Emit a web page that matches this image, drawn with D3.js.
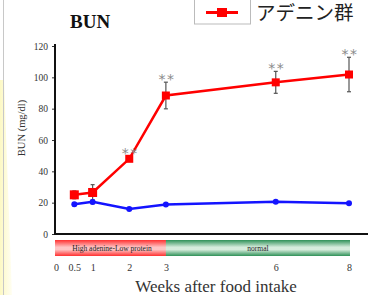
<!DOCTYPE html>
<html>
<head>
<meta charset="utf-8">
<script src="https://cdn.jsdelivr.net/npm/d3@7"></script>
<style>
  html, body { margin: 0; padding: 0; background: #fff; }
  svg { display: block; }
</style>
</head>
<body>
<div id="chart"></div>
<script>
// data
const weeks = [0.5, 1, 2, 3, 6, 8];
const adenine = [25, 26.5, 48, 88.4, 96.8, 101.8];
const adenineErr = [2.5, 5, 1.5, 8.5, 7, 11];
const control = [19, 20.5, 16, 18.8, 20.6, 19.6];
const controlErr = [1, 1.2, 0.5, 0.5, 0.5, 0.5];
const signif = ["", "", "**", "**", "**", "**"];
const xTicks = [0, 0.5, 1, 2, 3, 6, 8];
const yTicks = [0, 20, 40, 60, 80, 100, 120];
const phaseLabels = ["High adenine-Low protein", "normal"];
const phaseFrom = [0, 3];
const phaseTo = [3, 8];
const legendLabel = "アデニン群";

const width = 368, height = 295;

const svg = d3.select("#chart").append("svg")
    .attr("width", width)
    .attr("height", height);

const defs = svg.append("defs");

// left yellow fade + border line
const yg = defs.append("linearGradient").attr("id", "yel").attr("x1", 0).attr("x2", 1);
yg.append("stop").attr("offset", 0).attr("stop-color", "#fdf9c4");
yg.append("stop").attr("offset", 1).attr("stop-color", "#fffef2");
svg.append("path")
    .attr("d", "M0,80 L4,80 L12,295 L0,295 Z")
    .attr("fill", "url(#yel)");
svg.append("line")
    .attr("x1", 3.5).attr("x2", 3.5).attr("y1", 0).attr("y2", 295)
    .attr("stroke", "#c8c8c8").attr("stroke-width", 1);

// scales
const x = d3.scaleLinear().domain([0, 8]).range([56, 349]);
const y = d3.scaleLinear().domain([0, 120]).range([234, 46]);

// title
svg.append("text")
    .attr("x", 70).attr("y", 28)
    .attr("font-family", "Liberation Serif, serif")
    .attr("font-weight", "bold")
    .attr("font-size", 19)
    .attr("fill", "#111")
    .text("BUN");

// legend
const lg = svg.append("g");
lg.append("rect")
    .attr("x", 194.5).attr("y", -2).attr("width", 56).attr("height", 26)
    .attr("fill", "#fff").attr("stroke", "#bbb");
lg.append("line")
    .attr("x1", 206).attr("x2", 238).attr("y1", 12.5).attr("y2", 12.5)
    .attr("stroke", "#ff0000").attr("stroke-width", 3);
lg.append("rect")
    .attr("x", 217).attr("y", 8).attr("width", 10).attr("height", 9)
    .attr("fill", "#ff0000");
lg.append("text")
    .attr("x", 256).attr("y", 20)
    .attr("font-family", "Noto Sans CJK JP, sans-serif")
    .attr("font-size", 19.5)
    .attr("fill", "#222")
    .text(legendLabel);

// y axis
const yAxis = d3.axisLeft(y).tickValues(yTicks).tickSize(3).tickPadding(4);
const gy = svg.append("g")
    .attr("transform", "translate(" + 55 + ",0)")
    .call(yAxis);
gy.select(".domain").remove();
gy.selectAll(".tick line").attr("stroke", "#333");
gy.selectAll("text")
    .attr("font-family", "Liberation Serif, serif")
    .attr("font-size", 9.5)
    .attr("fill", "#333");
svg.append("line")
    .attr("x1", 55).attr("x2", 55).attr("y1", 44).attr("y2", 234)
    .attr("stroke", "#111").attr("stroke-width", 2);

svg.append("text")
    .attr("transform", "translate(25,128) rotate(-90)")
    .attr("text-anchor", "middle")
    .attr("font-family", "Liberation Serif, serif")
    .attr("font-size", 10.5)
    .attr("fill", "#333")
    .text("BUN (mg/dl)");

// x axis baseline
svg.append("line")
    .attr("x1", 54).attr("x2", 368).attr("y1", 234).attr("y2", 234)
    .attr("stroke", "#111").attr("stroke-width", 2);

// phase bands
const bandCols = [["#ff3030", "#ffc4c4"], ["#2f9158", "#d6ecdc"]];
bandCols.forEach((c, i) => {
    const g = defs.append("linearGradient").attr("id", "band" + i)
        .attr("x1", 0).attr("x2", 0).attr("y1", 0).attr("y2", 1);
    g.append("stop").attr("offset", 0).attr("stop-color", c[0]);
    g.append("stop").attr("offset", 0.45).attr("stop-color", c[1]);
    g.append("stop").attr("offset", 0.6).attr("stop-color", c[1]);
    g.append("stop").attr("offset", 1).attr("stop-color", c[0]);
});
const bandY = 240, bandH = 16;
phaseLabels.forEach((lab, i) => {
    const x0 = i === 0 ? x(phaseFrom[i]) - 1 : x(phaseFrom[i]);
    const x1 = x(phaseTo[i]) + 1;
    svg.append("rect")
        .attr("x", x0).attr("y", bandY)
        .attr("width", x1 - x0).attr("height", bandH)
        .attr("fill", "url(#band" + i + ")");
    svg.append("text")
        .attr("x", i === 0 ? 112 : (x0 + x1) / 2)
        .attr("y", bandY + bandH / 2 + 2.5)
        .attr("text-anchor", "middle")
        .attr("font-family", "Liberation Serif, serif")
        .attr("font-size", 7.5)
        .attr("fill", "#222")
        .text(lab);
});

// x tick labels
const xAxis = d3.axisBottom(x).tickValues(xTicks).tickSize(0).tickPadding(0)
    .tickFormat(d => String(d));
const gx = svg.append("g")
    .attr("transform", "translate(0,264)")
    .call(xAxis);
gx.select(".domain").remove();
gx.selectAll("text")
    .attr("font-family", "Liberation Serif, serif")
    .attr("font-size", 10)
    .attr("fill", "#333");

svg.append("text")
    .attr("x", 216).attr("y", 292)
    .attr("text-anchor", "middle")
    .attr("font-family", "Liberation Serif, serif")
    .attr("font-size", 17)
    .attr("fill", "#333")
    .text("Weeks after food intake");

// error bars
function errorBars(vals, errs, col) {
    const g = svg.append("g").attr("stroke", col).attr("stroke-width", 1.2);
    weeks.forEach((w, i) => {
        const cx = x(w), top = y(vals[i] + errs[i]), bot = y(vals[i] - errs[i]);
        g.append("line").attr("x1", cx).attr("x2", cx).attr("y1", top).attr("y2", bot);
        g.append("line").attr("x1", cx - 2).attr("x2", cx + 2).attr("y1", top).attr("y2", top);
        g.append("line").attr("x1", cx - 2).attr("x2", cx + 2).attr("y1", bot).attr("y2", bot);
    });
}
errorBars(adenine, adenineErr, "#555");
errorBars(control, controlErr, "#555");

const line = d3.line().x((d, i) => x(weeks[i])).y(d => y(d));

// control (blue)
svg.append("path")
    .datum(control)
    .attr("d", line)
    .attr("fill", "none")
    .attr("stroke", "#1414ff")
    .attr("stroke-width", 2.5);
svg.selectAll(".ctl").data(control).enter().append("circle")
    .attr("cx", (d, i) => x(weeks[i]))
    .attr("cy", d => y(d))
    .attr("r", 3)
    .attr("fill", "#1414ff");

// adenine (red)
svg.append("path")
    .datum(adenine)
    .attr("d", line)
    .attr("fill", "none")
    .attr("stroke", "#ff0000")
    .attr("stroke-width", 2.5);
svg.selectAll(".ad").data(adenine).enter().append("rect")
    .attr("x", (d, i) => x(weeks[i]) - (i < 2 ? 4.5 : 4))
    .attr("y", (d, i) => y(d) - (i < 2 ? 4.5 : 4))
    .attr("width", (d, i) => i < 2 ? 9 : 8)
    .attr("height", (d, i) => i < 2 ? 9 : 8)
    .attr("fill", "#ff0000");

// significance marks
svg.selectAll(".sig").data(signif).enter().append("text")
    .attr("x", (d, i) => x(weeks[i]) + 1)
    .attr("y", (d, i) => y(adenine[i] + adenineErr[i]) + 2)
    .attr("text-anchor", "middle")
    .attr("font-family", "DejaVu Sans, sans-serif")
    .attr("font-size", 14)
    .attr("letter-spacing", 1.5)
    .attr("fill", "#8a8a8a")
    .text(d => d);
</script>
</body>
</html>
